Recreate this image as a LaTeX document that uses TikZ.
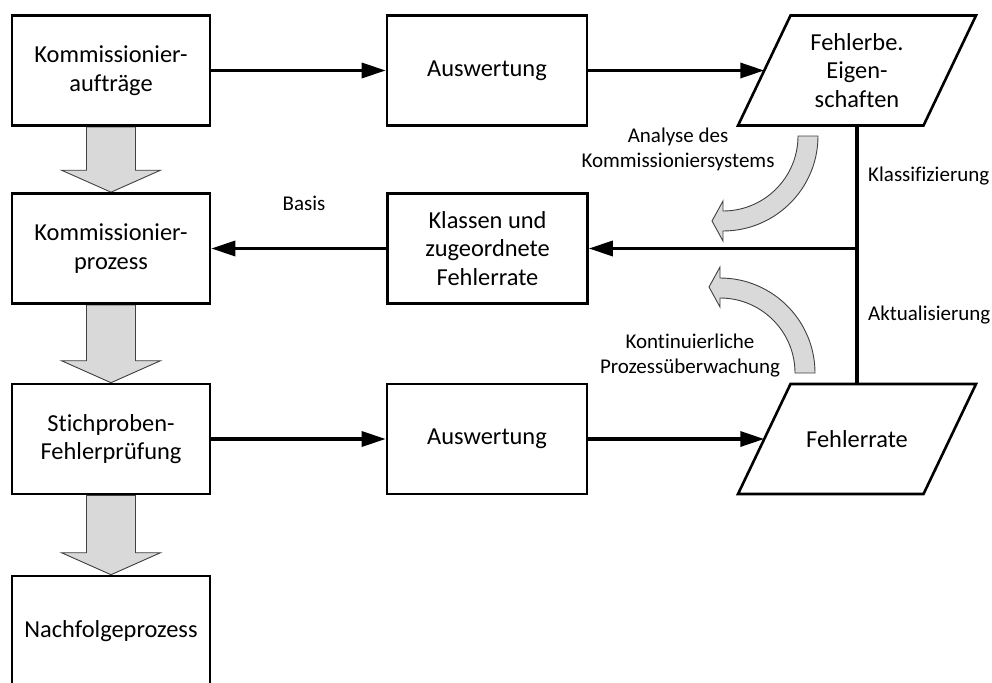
\documentclass[tikz,border=0pt]{standalone}
\usepackage{fontspec}
\setmainfont{Carlito}[Ligatures=NoCommon]
\usetikzlibrary{arrows.meta,backgrounds,calc}
\definecolor{arrowfill}{HTML}{D9D9D9}
\definecolor{arrowline}{HTML}{404040}
\newcommand\blockdown[2]{%
  \path[blockarrow] let \p1=(#1.south), \p2=(#2.north) in
    (\x1-24.5pt,\y1) -- (\x1+24.5pt,\y1) -- (\x1+24.5pt,\y2+22pt) -- (\x1+49.5pt,\y2+22pt)
    -- (\x1,\y2) -- (\x1-49.5pt,\y2+22pt) -- (\x1-24.5pt,\y2+22pt) -- cycle;}
\newcommand\paraframe[1]{%
  \draw[paraline] ($(#1.center)+(-66.5,55)$) -- ($(#1.center)+(119,55)$)
    -- ($(#1.center)+(66.5,-55)$) -- ($(#1.center)+(-119,-55)$) -- cycle;
  \coordinate (#1w) at ($(#1.center)+(-92.75,0)$);
  \coordinate (#1n) at ($(#1.center)+(0,55)$);
  \coordinate (#1s) at ($(#1.center)+(0,-55)$);}
\begin{document}
\begin{tikzpicture}[x=1pt,y=1pt,
  box/.style={draw, line width=2.6pt, minimum width=198pt, minimum height=110pt,
    align=center, inner sep=0pt, font=\fontsize{24.4}{28.5}\selectfont},
  paratext/.style={align=center, inner sep=0pt, font=\fontsize{24.4}{28.5}\selectfont},
  paraline/.style={line width=2.6pt, line join=miter},
  conn/.style={line width=3.4pt, -{Triangle[length=24pt,width=15pt]}},
  plain/.style={line width=3.4pt},
  lbl/.style={font=\fontsize{21}{25}\selectfont, align=center, inner sep=0pt},
  blockarrow/.style={fill=arrowfill, draw=arrowline, line width=0.9pt, line join=miter}
]
\useasboundingbox (0,0) rectangle (992,-682);

% left column
\node[box] (b1) at (111,-70.5) {Kommissionier-\\aufträge};
\node[box] (b2) at (111,-248.5) {Kommissionier-\\prozess};
\node[box] (b3) at (111,-439) {Stichproben-\\Fehlerprüfung};
\node[box] (b4) at (111,-631) {Nachfolgeprozess};

% middle column
\node[box, minimum width=200pt] (a1) at (487,-70.5) {Auswertung};
\node[box, minimum width=200pt] (k) at (487.5,-248.5) {Klassen und\\zugeordnete\\Fehlerrate};
\node[box, minimum width=200pt] (a2) at (487,-439) {Auswertung};

% right column
\node[paratext] (p1) at (857,-70.5) {Fehlerbe.\\Eigen-\\schaften};
\node[paratext] (p2) at (857,-439) {Fehlerrate};
\paraframe{p1}
\paraframe{p2}
\coordinate (j) at (p1.center |- k.east);

% block arrows
\begin{pgfonlayer}{background}
\blockdown{b1}{b2}
\blockdown{b2}{b3}
\blockdown{b3}{b4}
\end{pgfonlayer}

% connectors
\draw[conn] (b1.east) -- (p1w -| a1.west);
\draw[conn] (a1.east) -- (p1w);
\draw[conn] (k.west) -- (b2.east);
\draw[conn] (b3.east) -- (a2.west);
\draw[conn] (a2.east) -- (p2w);
\draw[plain] (p1s) -- (p2n);
\draw[conn] (j) -- (k.east);

% curved arrows
\path[blockarrow] (818,-136) arc[start angle=0, end angle=-90, radius=95]
  -- (723,-241) -- (712,-221) -- (723,-201) -- (723,-211)
  arc[start angle=-90, end angle=0, radius=75] -- cycle;
\path[blockarrow] (815,-373) arc[start angle=0, end angle=90, radius=95]
  -- (720,-267) -- (709,-287) -- (720,-307) -- (720,-298)
  arc[start angle=90, end angle=0, radius=75] -- cycle;

% labels
\node[lbl] (basis) at (304,-203) {Basis};
\node[lbl] (analyse) at (678,-149) {Analyse des\\Kommissioniersystems};
\node[lbl] (kont) at (690,-356) {Kontinuierliche\\Prozessüberwachung};
\node[lbl, anchor=west] (klass) at (868,-176) {Klassifizierung};
\node[lbl, anchor=west] (aktu) at (868,-315) {Aktualisierung};
\end{tikzpicture}
\end{document}
